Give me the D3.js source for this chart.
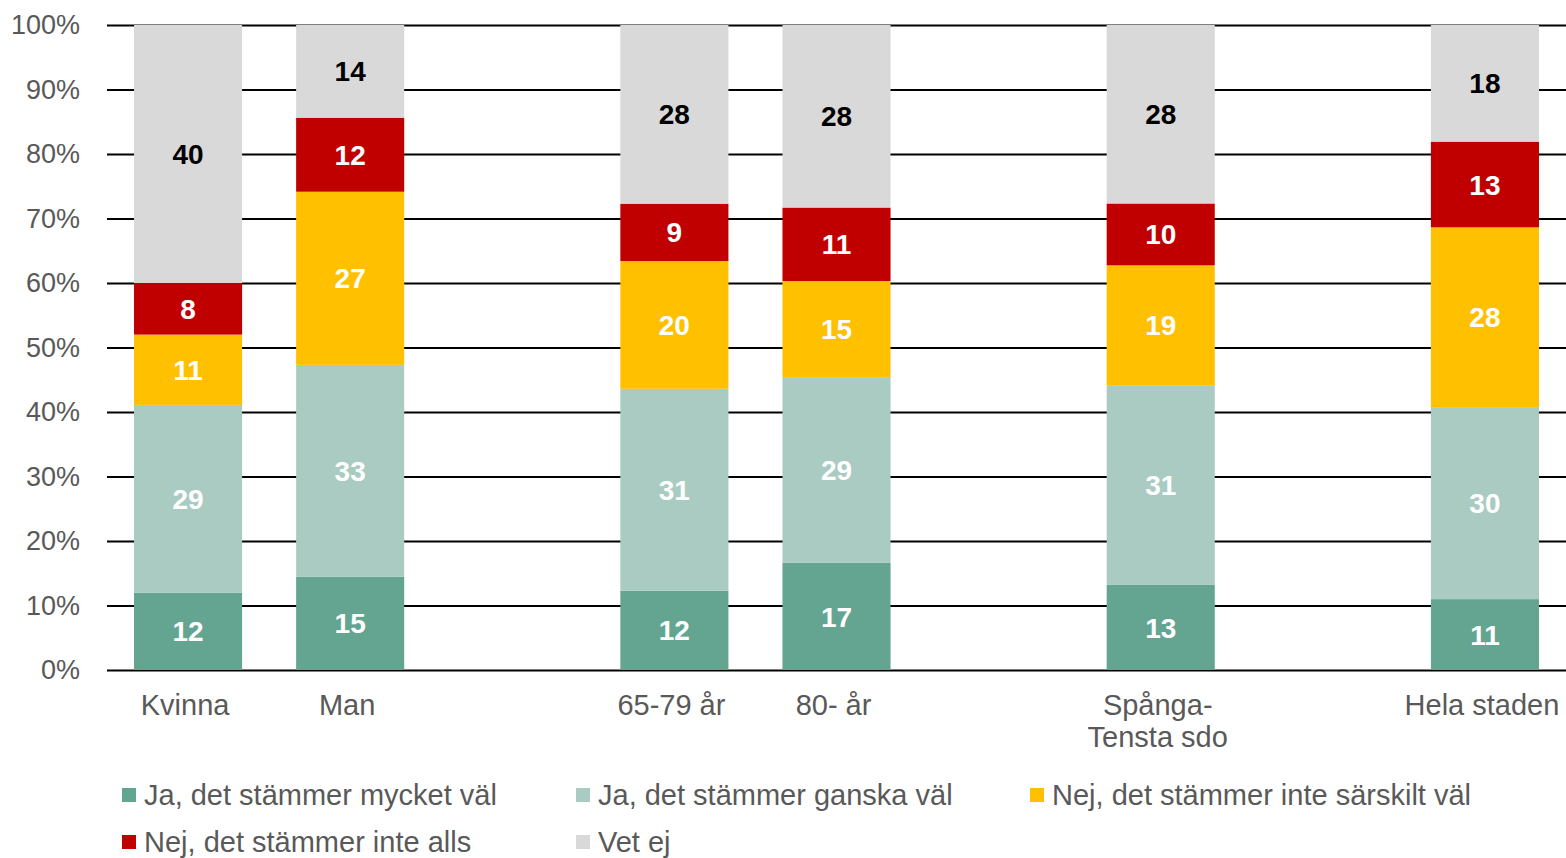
<!DOCTYPE html>
<html>
<head>
<meta charset="utf-8">
<script src="https://cdnjs.cloudflare.com/ajax/libs/d3/7.8.5/d3.min.js"></script>
<style>
  body { margin: 0; background: #fff; }
  text { font-family: Arial, "Liberation Sans", sans-serif; }
</style>
</head>
<body>
<div class="chart"></div>
<script>
var svgWidth = 1566;
var svgHeight = 858;

var margin = {
  top: 25,
  right: 0,
  bottom: 188,
  left: 107
};

var width = svgWidth - margin.left - margin.right;
var height = svgHeight - margin.top - margin.bottom;

// categories (null = empty slot between the groups)
var categories = ["Kvinna", "Man", null, "65-79 år", "80- år", null, "Spånga-\nTensta sdo", null, "Hela staden"];

// series, in stacking order from the bottom
var seriesNames = [
  "Ja, det stämmer mycket väl",
  "Ja, det stämmer ganska väl",
  "Nej, det stämmer inte särskilt väl",
  "Nej, det stämmer inte alls",
  "Vet ej"
];
var mycketVal   = [12.0, 14.5, null, 12.3, 16.6, null, 13.2, null, 11.0];
var ganskaVal   = [29.1, 32.9, null, 31.3, 28.8, null, 31.0, null, 29.8];
var inteSarskilt = [10.9, 26.9, null, 19.8, 14.9, null, 18.6, null, 27.9];
var inteAlls    = [8.0, 11.5, null, 8.9, 11.4, null, 9.6, null, 13.3];
var vetEj       = [40.0, 14.4, null, 27.7, 28.3, null, 27.7, null, 18.1];

var seriesValues = [mycketVal, ganskaVal, inteSarskilt, inteAlls, vetEj];
var seriesColors = ["#64a592", "#aacbc1", "#ffc000", "#c00000", "#d9d9d9"];
var labelColors = ["#ffffff", "#ffffff", "#ffffff", "#ffffff", "#000000"];

var yTicks = [0, 0.1, 0.2, 0.3, 0.4, 0.5, 0.6, 0.7, 0.8, 0.9, 1];

// build rows for the stack
var rows = [];
categories.forEach(function(c, i) {
  if (c === null) return;
  rows.push({
    slot: i,
    name: c,
    values: seriesValues.map(function(s) { return s[i]; })
  });
});

var stack = d3.stack()
  .keys(d3.range(seriesNames.length))
  .value(function(d, k) { return d.values[k]; })
  .offset(d3.stackOffsetExpand);

var stacked = stack(rows);

var svg = d3
  .select(".chart")
  .append("svg")
  .attr("width", svgWidth)
  .attr("height", svgHeight);

var chartGroup = svg.append("g")
  .attr("transform", `translate(${margin.left}, ${margin.top})`);

var xScale = d3.scaleBand()
  .domain(d3.range(categories.length))
  .range([0, width])
  .paddingInner(1 / 3)
  .paddingOuter(1 / 6);

var yScale = d3.scaleLinear()
  .domain([0, 1])
  .range([height, 0]);

// y axis with gridlines
var leftAxis = d3.axisLeft(yScale)
  .tickValues(yTicks)
  .tickFormat(d3.format(".0%"))
  .tickSize(-width)
  .tickPadding(27);

var yAxis = chartGroup.append("g")
  .call(leftAxis);

yAxis.select(".domain").remove();
yAxis.selectAll("line")
  .attr("stroke", "#000")
  .attr("stroke-width", 1.8);
yAxis.selectAll("text")
  .attr("fill", "#595959")
  .attr("font-size", 27)
  .attr("font-family", "Arial, 'Liberation Sans', sans-serif");

// bars
var layers = chartGroup.selectAll(".layer")
  .data(stacked)
  .enter()
  .append("g")
  .attr("class", "layer")
  .attr("fill", function(d) { return seriesColors[d.key]; });

layers.selectAll("rect")
  .data(function(d) { return d; })
  .enter()
  .append("rect")
  .attr("x", function(d) { return xScale(d.data.slot); })
  .attr("width", xScale.bandwidth())
  .attr("y", function(d) { return yScale(d[1]); })
  .attr("height", function(d) { return yScale(d[0]) - yScale(d[1]); });

// value labels
layers.selectAll("text")
  .data(function(d) {
    return d.map(function(p) { p.key = d.key; return p; });
  })
  .enter()
  .append("text")
  .attr("x", function(d) { return xScale(d.data.slot) + xScale.bandwidth() / 2; })
  .attr("y", function(d) { return (yScale(d[0]) + yScale(d[1])) / 2; })
  .attr("dy", "0.36em")
  .attr("text-anchor", "middle")
  .attr("font-size", 28)
  .attr("font-weight", "bold")
  .attr("fill", function(d) { return labelColors[d.key]; })
  .text(function(d) { return Math.round(d.data.values[d.key]); });

// category labels
var catLabels = chartGroup.append("g")
  .selectAll("text")
  .data(rows)
  .enter()
  .append("text")
  .attr("text-anchor", "middle")
  .attr("font-size", 29)
  .attr("fill", "#595959")
  .attr("transform", function(d) {
    return `translate(${xScale(d.slot) + xScale.bandwidth() / 2 - 3}, ${height + 45})`;
  });

catLabels.selectAll("tspan")
  .data(function(d) { return d.name.split("\n"); })
  .enter()
  .append("tspan")
  .attr("x", 0)
  .attr("y", function(d, i) { return i * 32; })
  .text(function(d) { return d; });

// legend
var legend = svg.append("g")
  .attr("transform", "translate(122, 795)");

var legendItems = legend.selectAll("g")
  .data(seriesNames)
  .enter()
  .append("g")
  .attr("transform", function(d, i) {
    return `translate(${(i % 3) * 454}, ${Math.floor(i / 3) * 47})`;
  });

legendItems.append("rect")
  .attr("x", 0)
  .attr("y", -7)
  .attr("width", 14)
  .attr("height", 14)
  .attr("fill", function(d, i) { return seriesColors[i]; });

legendItems.append("text")
  .attr("x", 22)
  .attr("y", 0)
  .attr("dy", "0.35em")
  .attr("font-size", 29)
  .attr("fill", "#595959")
  .text(function(d) { return d; });
</script>
</body>
</html>
